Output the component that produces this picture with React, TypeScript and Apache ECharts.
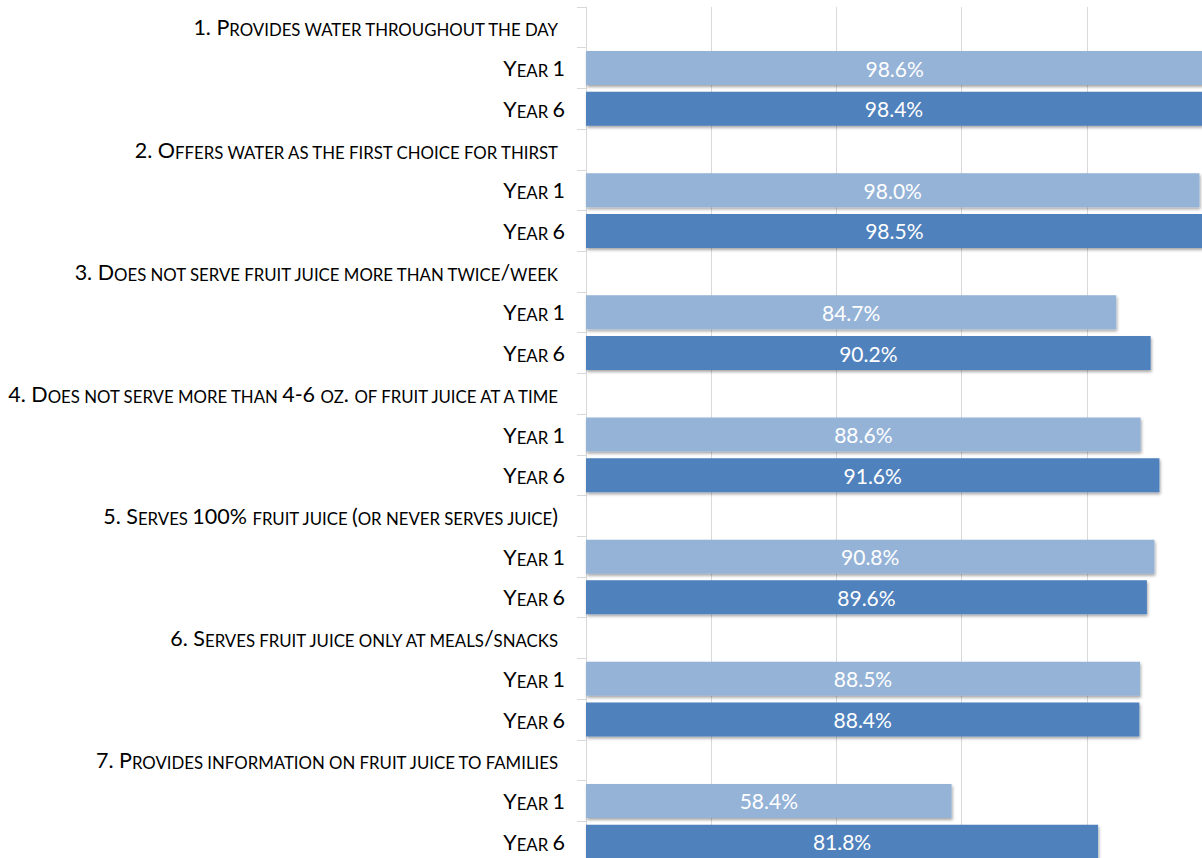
import React, { useEffect, useRef } from "react";
import * as echarts from "echarts";

const measures = [
  "1. Provides water throughout the day",
  "2. Offers water as the first choice for thirst",
  "3. Does not serve fruit juice more than twice/week",
  "4. Does not serve more than 4-6 oz. of fruit juice at a time",
  "5. Serves 100% fruit juice (or never serves juice)",
  "6. Serves fruit juice only at meals/snacks",
  "7. Provides information on fruit juice to families",
];
const yearLabels = ["Year 1", "Year 6"];
const year1 = [98.6, 98.0, 84.7, 88.6, 90.8, 88.5, 58.4];
const year6 = [98.4, 98.5, 90.2, 91.6, 89.6, 88.4, 81.8];

const FONT = "Lato";
const BIG = 21.5;
const SMALL = 16.8;

function runs(text: string): { s: string; t: string }[] {
  const out: { s: string; t: string }[] = [];
  let cur = "";
  let curStyle = "";
  for (const ch of text) {
    let style: string;
    let c = ch;
    if (ch >= "a" && ch <= "z") {
      style = "s";
      c = ch.toUpperCase();
    } else if (ch === " ") {
      style = curStyle || "s";
    } else {
      style = "b";
    }
    if (style !== curStyle) {
      if (cur) out.push({ s: curStyle, t: cur });
      cur = "";
      curStyle = style;
    }
    cur += c;
  }
  if (cur) out.push({ s: curStyle, t: cur });
  return out;
}

export default function App() {
  const ref = useRef<HTMLDivElement>(null);
  useEffect(() => {
    let chart: echarts.ECharts | null = null;
    let disposed = false;
    const build = () => {
      if (disposed || !ref.current) return;
      const canvas = document.createElement("canvas");
      const ctx = canvas.getContext("2d")!;
      const rich: Record<string, any> = {
        pad: { fontSize: SMALL, fontFamily: FONT, width: 7, verticalAlign: "bottom" },
      };
      const keyMap: Record<string, string> = {};
      let n = 0;
      const tokenKey = (s: string, t: string) => {
        const id = s + "|" + t;
        if (keyMap[id]) return keyMap[id];
        const size = s === "b" ? BIG : SMALL;
        ctx.font = `${size}px ${FONT}`;
        const w = ctx.measureText(t).width;
        const k = "k" + n++;
        keyMap[id] = k;
        rich[k] = {
          fontSize: size,
          fontFamily: FONT,
          color: "#000",
          width: w,
          verticalAlign: "bottom",
        };
        return k;
      };
      const formatted: Record<string, string> = {};
      const categories: string[] = [];
      const d1: any[] = [];
      const d6: any[] = [];
      const addCat = (id: string, text: string, isTitle: boolean) => {
        categories.push(id);
        let s = runs(text)
          .map((r) => {
            const t = r.t.replace(/ /g, "\u00a0");
            return `{${tokenKey(r.s, t)}|${t}}`;
          })
          .join("");
        if (isTitle) s += `{pad|\u00a0}`;
        formatted[id] = s;
      };
      measures.forEach((m, i) => {
        addCat(m, m, true);
        d1.push("-");
        d6.push("-");
        addCat(yearLabels[0] + "#" + i, yearLabels[0], false);
        d1.push(year1[i]);
        d6.push("-");
        addCat(yearLabels[1] + "#" + i, yearLabels[1], false);
        d1.push("-");
        d6.push(year6[i]);
      });
      chart = echarts.init(ref.current, undefined, { renderer: "svg" });
      const shadow = {
        shadowColor: "rgba(0,0,0,0.35)",
        shadowBlur: 3,
        shadowOffsetX: 1,
        shadowOffsetY: 2,
      };
      const label = {
        show: true,
        position: "inside",
        color: "#ffffff",
        fontSize: 21,
        fontFamily: FONT,
        formatter: (p: any) => Number(p.value).toFixed(1) + "%",
      };
      chart.setOption({
        animation: false,
        backgroundColor: "#ffffff",
        grid: { left: 586, top: 7, width: 626, height: 855, containLabel: false },
        xAxis: {
          type: "value",
          min: 0,
          max: 100,
          interval: 20,
          axisLabel: { show: false },
          axisLine: { show: false },
          axisTick: { show: false },
          splitLine: { show: true, lineStyle: { color: "#d9d9d9", width: 1 } },
        },
        yAxis: {
          type: "category",
          inverse: true,
          data: categories,
          axisLine: { show: true, lineStyle: { color: "#d9d9d9", width: 1 } },
          axisTick: { show: true, length: 9, lineStyle: { color: "#d9d9d9" } },
          axisLabel: {
            margin: 21,
            interval: 0,
            color: "#000000",
            formatter: (v: string) => formatted[v],
            rich,
          },
        },
        series: [
          {
            type: "bar",
            name: "Year 1",
            data: d1,
            barWidth: 34,
            barGap: "-100%",
            itemStyle: { color: "#95B3D7", ...shadow },
            label,
          },
          {
            type: "bar",
            name: "Year 6",
            data: d6,
            barWidth: 34,
            barGap: "-100%",
            itemStyle: { color: "#4F81BD", ...shadow },
            label,
          },
        ],
      });
    };
    const fonts: any = (document as any).fonts;
    if (fonts && fonts.load) {
      Promise.all([
        fonts.load(`${BIG}px Lato`),
        fonts.load(`${SMALL}px Lato`),
        fonts.load("21px Lato"),
      ])
        .catch(() => null)
        .then(() => build());
    } else {
      build();
    }
    return () => {
      disposed = true;
      if (chart) chart.dispose();
    };
  }, []);
  return (
    <div
      style={{
        position: "absolute",
        left: 0,
        top: 0,
        width: 1202,
        height: 858,
        overflow: "hidden",
        background: "#fff",
      }}
    >
      <div ref={ref} style={{ width: 1240, height: 880 }} />
    </div>
  );
}
